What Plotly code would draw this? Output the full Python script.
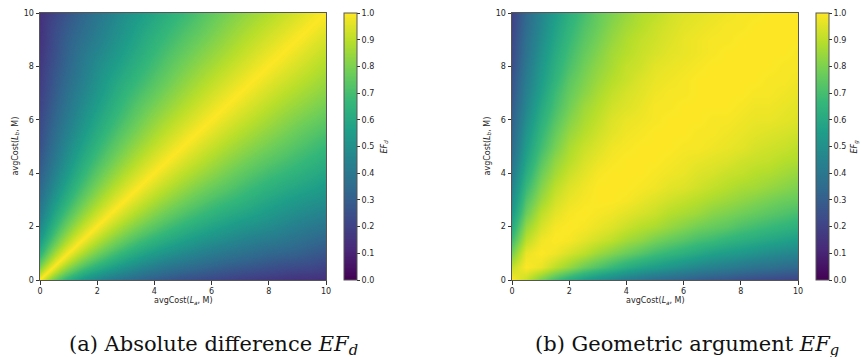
import plotly.graph_objects as go

# ---------------- data ----------------
# Panel (a): EF_d is 1 on the diagonal and falls off linearly towards the edges along
# each anti-diagonal line avgCost(L_a)+avgCost(L_b) = s.  Values are read on the
# chart border where each anti-diagonal meets it.
diag_sum = [0.01, 0.25, 0.5, 1, 1.5, 2, 2.5, 3, 4, 5, 6, 7, 8, 9, 10,
            11, 12, 13, 14, 15, 16, 17, 18, 19, 19.99]
# EF_d on the diagonal (L_a = L_b)
ef_d_diagonal = [1.00] * 25
# EF_d on the upper-left border: left edge (L_a=0, L_b=s) for s<=10, then top edge (L_a=s-10, L_b=10)
ef_d_upper_edge = [1.00, 0.88, 0.78, 0.63, 0.53, 0.46, 0.41, 0.37, 0.30, 0.25, 0.22, 0.19, 0.17,
                   0.15, 0.14, 0.27, 0.39, 0.50, 0.59, 0.67, 0.75, 0.82, 0.88, 0.94, 1.00]
# EF_d on the lower-right border: bottom edge (L_a=s, L_b=0), then right edge (L_a=10, L_b=s-10)
ef_d_lower_edge = [1.00, 0.88, 0.78, 0.63, 0.53, 0.46, 0.41, 0.37, 0.30, 0.25, 0.22, 0.19, 0.17,
                   0.15, 0.14, 0.27, 0.39, 0.50, 0.59, 0.67, 0.75, 0.82, 0.88, 0.94, 1.00]

# Panel (b): EF_g on a grid (step 0.5), row j = L_b grid[j], entries for L_a grid[0..j] (symmetric map)
grid = [0.0, 0.5, 1.0, 1.5, 2.0, 2.5, 3.0, 3.5, 4.0, 4.5, 5.0,
        5.5, 6.0, 6.5, 7.0, 7.5, 8.0, 8.5, 9.0, 9.5, 10.0]
ef_g_lower = [
    [1.00],
    [0.91, 1.00],
    [0.79, 0.97, 1.00],
    [0.69, 0.90, 0.98, 1.00],
    [0.61, 0.84, 0.94, 0.99, 1.00],
    [0.54, 0.77, 0.90, 0.96, 0.99, 1.00],
    [0.49, 0.72, 0.85, 0.93, 0.97, 0.99, 1.00],
    [0.45, 0.67, 0.81, 0.90, 0.95, 0.98, 1.00, 1.00],
    [0.41, 0.62, 0.77, 0.86, 0.92, 0.96, 0.99, 1.00, 1.00],
    [0.38, 0.58, 0.73, 0.83, 0.89, 0.94, 0.97, 0.99, 1.00, 1.00],
    [0.35, 0.55, 0.69, 0.79, 0.87, 0.92, 0.95, 0.98, 0.99, 1.00, 1.00],
    [0.33, 0.52, 0.66, 0.76, 0.84, 0.89, 0.93, 0.96, 0.98, 0.99, 1.00, 1.00],
    [0.31, 0.49, 0.63, 0.73, 0.81, 0.87, 0.91, 0.95, 0.97, 0.98, 0.99, 1.00, 1.00],
    [0.29, 0.46, 0.60, 0.70, 0.78, 0.85, 0.89, 0.93, 0.95, 0.97, 0.99, 0.99, 1.00, 1.00],
    [0.27, 0.44, 0.57, 0.68, 0.76, 0.82, 0.87, 0.91, 0.94, 0.96, 0.98, 0.99, 0.99, 1.00, 1.00],
    [0.26, 0.42, 0.55, 0.65, 0.74, 0.80, 0.85, 0.89, 0.92, 0.95, 0.97, 0.98, 0.99, 1.00, 1.00, 1.00],
    [0.24, 0.40, 0.53, 0.63, 0.71, 0.78, 0.83, 0.87, 0.91, 0.93, 0.96, 0.97, 0.98, 0.99, 1.00, 1.00, 1.00],
    [0.23, 0.38, 0.51, 0.61, 0.69, 0.76, 0.81, 0.86, 0.89, 0.92, 0.94, 0.96, 0.97, 0.98, 0.99, 1.00, 1.00, 1.00],
    [0.22, 0.37, 0.49, 0.59, 0.67, 0.74, 0.79, 0.84, 0.88, 0.91, 0.93, 0.95, 0.97, 0.98, 0.99, 0.99, 1.00, 1.00, 1.00],
    [0.21, 0.35, 0.47, 0.57, 0.65, 0.72, 0.77, 0.82, 0.86, 0.89, 0.92, 0.94, 0.96, 0.97, 0.98, 0.99, 0.99, 1.00, 1.00, 1.00],
    [0.20, 0.34, 0.46, 0.55, 0.63, 0.70, 0.76, 0.80, 0.84, 0.88, 0.90, 0.93, 0.95, 0.96, 0.97, 0.98, 0.99, 0.99, 1.00, 1.00, 1.00],
]

axis_ticks = [0, 2, 4, 6, 8, 10]
cbar_ticks = [0.0, 0.1, 0.2, 0.3, 0.4, 0.5, 0.6, 0.7, 0.8, 0.9, 1.0]
captions = ["(a) Absolute difference <i>EF</i><sub><i>d</i></sub>",
            "(b) Geometric argument <i>EF</i><sub><i>g</i></sub>"]
cbar_titles = ["<i>EF</i><sub><i>d</i></sub>", "<i>EF</i><sub><i>g</i></sub>"]
x_title = "avgCost(<i>L</i><sub><i>a</i></sub>, M)"
y_title = "avgCost(<i>L</i><sub><i>b</i></sub>, M)"
AXMAX = 10


def full_matrix(lower):
    n = len(lower)
    return [[lower[j][i] if i <= j else lower[i][j] for i in range(n)] for j in range(n)]


# carpet node positions: for each anti-diagonal (sum s), the lower-right border point,
# the diagonal point and the upper-left border point
def border_lower(s):
    return (min(s, AXMAX), max(0, s - AXMAX))


def border_upper(s):
    return (max(0, s - AXMAX), min(s, AXMAX))


carpet_x = [[border_lower(s)[0] for s in diag_sum],
            [s / 2 for s in diag_sum],
            [border_upper(s)[0] for s in diag_sum]]
carpet_y = [[border_lower(s)[1] for s in diag_sum],
            [s / 2 for s in diag_sum],
            [border_upper(s)[1] for s in diag_sum]]
side = [-1, 0, 1]

# ---------------- layout geometry ----------------
W, H = 862, 357
plot_top, plot_bot = 13, 280
panels = [
    dict(x0=40, x1=326, cb=344, cbt=384, ylab=15, cap=213),
    dict(x0=512, x1=798, cb=816, cbt=855, ylab=487, cap=687),
]
ydom = [(H - plot_bot) / H, (H - plot_top) / H]
ymid = (H - (plot_top + plot_bot) / 2) / H

tickfont = dict(family="DejaVu Sans", size=8, color="#262626")


def cbar(p):
    return dict(
        x=p["cb"] / W, xanchor="left", xpad=0, ypad=0,
        y=ymid, yanchor="middle",
        len=plot_bot - plot_top, lenmode="pixels",
        thickness=13, thicknessmode="pixels",
        outlinecolor="#555555", outlinewidth=1,
        tickvals=cbar_ticks, ticktext=[f"{v:.1f}" for v in cbar_ticks],
        ticks="outside", ticklen=3, tickwidth=1, tickcolor="#333333",
        tickfont=tickfont,
    )


hidden_carpet_axis = dict(smoothing=0, showgrid=False, showline=False, showticklabels="none",
                          startline=False, endline=False, minorgridcount=0,
                          tickmode="array", tickvals=[])

fig = go.Figure()
# panel (a)
fig.add_trace(go.Carpet(carpet="cd", a=diag_sum, b=side, x=carpet_x, y=carpet_y,
                        aaxis=hidden_carpet_axis, baxis=hidden_carpet_axis,
                        xaxis="x", yaxis="y"))
fig.add_trace(go.Contourcarpet(
    carpet="cd", a=diag_sum, b=side,
    z=[ef_d_lower_edge, ef_d_diagonal, ef_d_upper_edge],
    zmin=0, zmax=1, colorscale="Viridis", autocontour=False,
    contours=dict(start=0, end=1, size=0.005, coloring="fill", showlines=False),
    line=dict(width=0), colorbar=cbar(panels[0]), xaxis="x", yaxis="y"))
# panel (b)
fig.add_trace(go.Heatmap(
    x=grid, y=grid, z=full_matrix(ef_g_lower),
    zmin=0, zmax=1, colorscale="Viridis", zsmooth="best",
    xaxis="x2", yaxis="y2", colorbar=cbar(panels[1])))

for k, p in enumerate(panels):
    sfx = "" if k == 0 else "2"
    xd = [p["x0"] / W, p["x1"] / W]
    axcommon = dict(range=[0, AXMAX], tickvals=axis_ticks, showgrid=False, zeroline=False,
                    showline=True, mirror=True, linecolor="#555555", linewidth=1,
                    ticks="outside", ticklen=3.5, tickwidth=1, tickcolor="#333333",
                    tickfont=tickfont, automargin=False)
    fig.update_layout(**{
        "xaxis" + sfx: dict(domain=xd, anchor="y" + sfx, **axcommon),
        "yaxis" + sfx: dict(domain=ydom, anchor="x" + sfx, **axcommon),
    })
    xc = (p["x0"] + p["x1"]) / 2 / W
    fig.add_annotation(x=xc, y=(H - 301) / H, xref="paper", yref="paper",
                       text=x_title, showarrow=False, font=tickfont,
                       xanchor="center", yanchor="middle")
    fig.add_annotation(x=p["ylab"] / W, y=ymid, xref="paper", yref="paper",
                       text=y_title, showarrow=False, font=tickfont, textangle=-90,
                       xanchor="center", yanchor="middle")
    fig.add_annotation(x=p["cbt"] / W, y=ymid, xref="paper", yref="paper",
                       text=cbar_titles[k], showarrow=False, font=tickfont, textangle=-90,
                       xanchor="center", yanchor="middle")
    fig.add_annotation(x=p["cap"] / W, y=(H - 345) / H,
                       xref="paper", yref="paper", text=captions[k], showarrow=False,
                       font=dict(family="DejaVu Serif", size=21, color="#111111"),
                       xanchor="center", yanchor="middle")

fig.update_layout(width=W, height=H,
                  margin=dict(l=0, r=0, t=0, b=0, pad=0, autoexpand=False),
                  paper_bgcolor="white", plot_bgcolor="white", showlegend=False)
fig.write_html("out.html", config={"displayModeBar": False, "staticPlot": True},
               post_script="document.body.style.margin='0';document.body.style.padding='0';")
